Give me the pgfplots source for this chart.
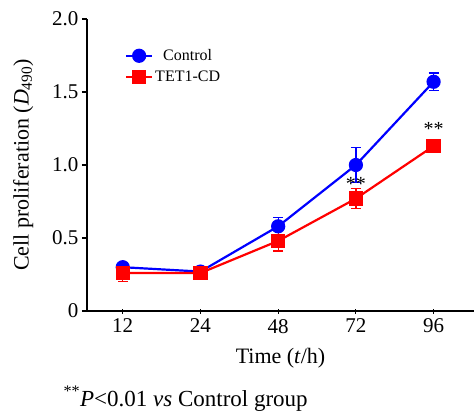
\documentclass[border=0pt]{standalone}
\usepackage{pgfplots}
\pgfplotsset{compat=1.18}
\usepackage{fontspec}
\setmainfont{Liberation Serif}
\definecolor{ctrlblue}{RGB}{0,0,255}
\definecolor{tetred}{RGB}{255,0,0}

\begin{document}
\begin{tikzpicture}
\path[use as bounding box] (0,0) rectangle (474pt,-412pt);
\begin{axis}[
  at={(87pt,-311pt)}, anchor=south west,
  scale only axis, width=387pt, height=292pt,
  axis lines=left, axis line style={-, line width=1.6pt},
  xmin=-0.46, xmax=4.52, ymin=0, ymax=2.0,
  xtick={0,1,2,3,4}, xticklabels={12,24,48,72,96},
  ytick={0,0.5,1.0,1.5,2.0}, yticklabels={0,0.5,1.0,1.5,2.0},
  tick style={black, line width=1.2pt}, major tick length=5pt,
  xtick align=center, ytick align=outside,
  tick label style={font=\fontsize{21}{23}\selectfont},
  xticklabel style={yshift=-2pt},
  /pgf/number format/assume math mode=true,
  xlabel={Time (\textit{t}/h)},
  ylabel={Cell proliferation (\textit{D}\textsubscript{490})},
  label style={font=\fontsize{22}{24}\selectfont},
  xlabel style={yshift=-8pt},
  ylabel style={yshift=12pt},
  legend style={at={(0.09,0.91)}, anchor=north west, draw=none, fill=none,
    font=\fontsize{16}{18}\selectfont, row sep=5pt},
  legend image code/.code={
    \draw[#1] (0pt,0pt) -- (26pt,0pt);
    \draw[#1, mark repeat=1] plot coordinates {(13pt,0pt)};},
  clip=false,
]
\addplot[ctrlblue, line width=2.2pt, mark=*, mark size=6pt,
  error bars/.cd, y dir=both, y explicit,
  error bar style={line width=1.3pt}, error mark options={rotate=90, mark size=5pt, line width=1.3pt}]
  coordinates {(0,0.30)+-(0,0.02) (1,0.27)+-(0,0.03) (2,0.58)+-(0,0.06) (3,1.00)+-(0,0.12) (4,1.57)+-(0,0.06)};
\addlegendentry{Control}
\addplot[tetred, line width=2.2pt, mark=square*, mark size=6pt,
  error bars/.cd, y dir=both, y explicit,
  error bar style={line width=1.3pt}, error mark options={rotate=90, mark size=5pt, line width=1.3pt}]
  coordinates {(0,0.26)+-(0,0.06) (1,0.26)+-(0,0.03) (2,0.48)+-(0,0.07) (3,0.77)+-(0,0.07) (4,1.13)+-(0,0.04)};
\addlegendentry{TET1-CD}
\node[font=\fontsize{20}{22}\selectfont, anchor=south] at (axis cs:3,0.80) {**};
\node[font=\fontsize{20}{22}\selectfont, anchor=south] at (axis cs:4,1.18) {**};
\end{axis}
\node[anchor=base west, font=\fontsize{23}{25}\selectfont] at (60pt,-406pt)
  {\textsuperscript{**}\textit{P}<0.01 \textit{vs} Control group};
\end{tikzpicture}
\end{document}
